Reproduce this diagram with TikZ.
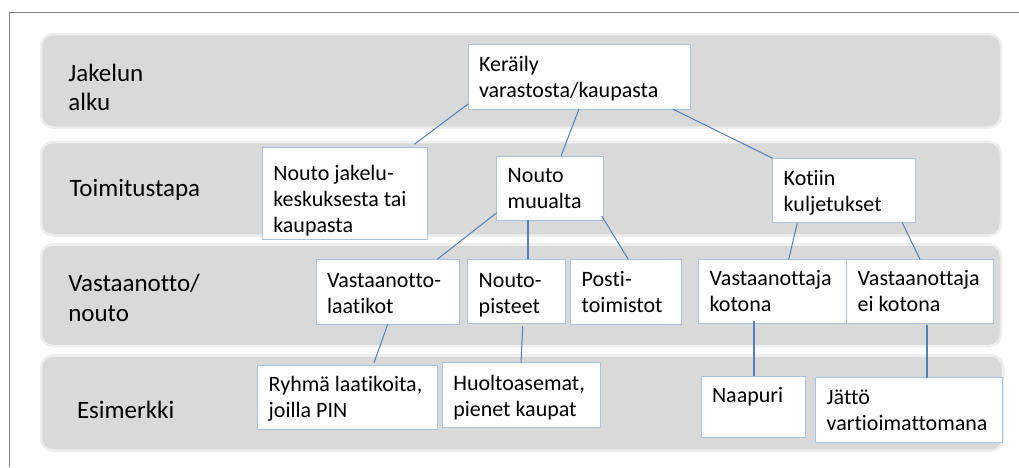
\documentclass[tikz,border=0pt]{standalone}
\usepackage{fontspec}
\setmainfont{Carlito}[Ligatures={NoCommon}]
\usetikzlibrary{calc}

\definecolor{bandfill}{HTML}{D9D9D9}
\definecolor{bandedge}{HTML}{EEEEEE}
\definecolor{celledge}{HTML}{A9C2E0}
\definecolor{linkblue}{HTML}{4F81BD}
\definecolor{framegray}{HTML}{808080}

% text of a box: width, height, first-baseline offset, lines
\newcommand\celltext[4]{\parbox[c][#2pt][t]{#1pt}{\raggedright\leftskip=11pt\relax
  \fontsize{22}{26.2}\selectfont\rule{0pt}{#3pt}#4}}

\tikzset{
  band/.style={fill=bandfill, draw=bandedge, line width=2.5pt, rounded corners=12pt},
  cell/.style={draw=celledge, line width=1pt, fill=white, inner sep=0pt, outer sep=0pt,
    anchor=north west, text=black},
  rowlabel/.style={inner sep=0pt, outer sep=0pt, anchor=base west, text=black,
    font=\fontsize{25}{29.5}\selectfont},
  link/.style={draw=linkblue, line width=1pt},
  thicklink/.style={draw=linkblue, line width=2pt},
}

\begin{document}
\begin{tikzpicture}[x=1pt, y=-1pt]
\useasboundingbox (0,0) rectangle (1019,467);

% outer frame (top and left edges only)
\draw[framegray, line width=1.3pt] (1019,12.7) -- (9.3,12.7) -- (9.3,467);

% row bands
\draw[band] (41,34) rectangle (1001,127.5);
\draw[band] (41,142) rectangle (1001,235.5);
\draw[band] (41,244.5) rectangle (1001,346);
\draw[band] (41,355.5) rectangle (1003,450.5);

% row labels
\node[rowlabel] (lab1) at (68.3,81) {\parbox[t]{150pt}{Jakelun\\alku}};
\node[rowlabel] (lab2) at (69.5,196.7) {\parbox[t]{150pt}{Toimitustapa}};
\node[rowlabel] (lab3) at (68.3,291.7) {\parbox[t]{150pt}{Vastaanotto/\\nouto}};
\node[rowlabel] (lab4) at (77,418.3) {\parbox[t]{150pt}{Esimerkki}};

% boxes
\node[cell] (ker) at (468,44.3) {\celltext{222.7}{64.7}{27.4}{Keräily\\varastosta/kaupasta}};

\node[cell] (nj) at (262.3,147.7) {\celltext{165}{91.6}{32.4}{Nouto jakelu-\\keskuksesta tai\\kaupasta}};
\node[cell] (nm) at (496.7,156) {\celltext{106.6}{64}{26.7}{Nouto\\muualta}};
\node[cell] (kot) at (772.7,158.3) {\celltext{143}{64.4}{26.7}{Kotiin\\kuljetukset}};

\node[cell] (vl) at (316,259.3) {\celltext{143.3}{65}{28}{Vastaanotto-\\laatikot}};
\node[cell] (np) at (467.7,259.3) {\celltext{97.6}{64.4}{28}{Nouto-\\pisteet}};
\node[cell] (pt) at (570.7,259.3) {\celltext{111}{65}{27.4}{Posti-\\toimistot}};
\node[cell] (vk) at (698.7,259.3) {\celltext{148}{64}{26}{Vastaanottaja\\kotona}};
\node[cell] (vek) at (846.7,259.3) {\celltext{146.6}{64}{26}{Vastaanottaja\\ei kotona}};

\node[cell] (ry) at (257.7,365) {\celltext{180}{64.3}{26.7}{Ryhmä laatikoita,\\joilla PIN}};
\node[cell] (hu) at (442.3,362.7) {\celltext{158.4}{64.6}{27.3}{Huoltoasemat,\\pienet kaupat}};
\node[cell] (na) at (701,376) {\celltext{104.3}{61.3}{26.7}{Naapuri}};
\node[cell] (jt) at (815.7,377.7) {\celltext{186.6}{64.6}{26.3}{Jättö\\vartioimattomana}};

% connectors
\draw[link] ($(ker.south west)+(0,-5)$) -- ($(nj.north east)+(-13,-3.4)$);
\draw[link] ($(ker.south west)+(111,0)$) -- ($(nm.north west)+(64.3,0)$);
\draw[link] ($(ker.south east)+(-18,0)$) -- (kot.north west);

\draw[link] ($(nm.south west)+(0,-7.3)$) -- ($(vl.north east)+(-22,0)$);
\draw[thicklink] ($(nm.south west)+(31,0)$) -- ($(np.north west)+(60,0)$);
\draw[link] ($(nm.south east)+(-1.6,-4)$) -- ($(pt.north west)+(57.6,0)$);
\draw[link] ($(kot.south west)+(24.6,0)$) -- ($(vk.north west)+(90,0)$);
\draw[link] ($(kot.south east)+(-13.4,0)$) -- ($(vek.north west)+(73.3,0)$);

\draw[link] ($(vl.south west)+(71.7,0)$) -- ($(ry.north west)+(116.3,-2.3)$);
\draw[link] ($(np.south west)+(55,2.5)$) -- ($(hu.north west)+(78.7,0)$);
\draw[thicklink] ($(vk.south west)+(55.3,-2)$) -- ($(na.north west)+(53,0)$);
\draw[thicklink] ($(vek.south west)+(80,1.3)$) -- ($(jt.north west)+(111,0)$);
\end{tikzpicture}
\end{document}
